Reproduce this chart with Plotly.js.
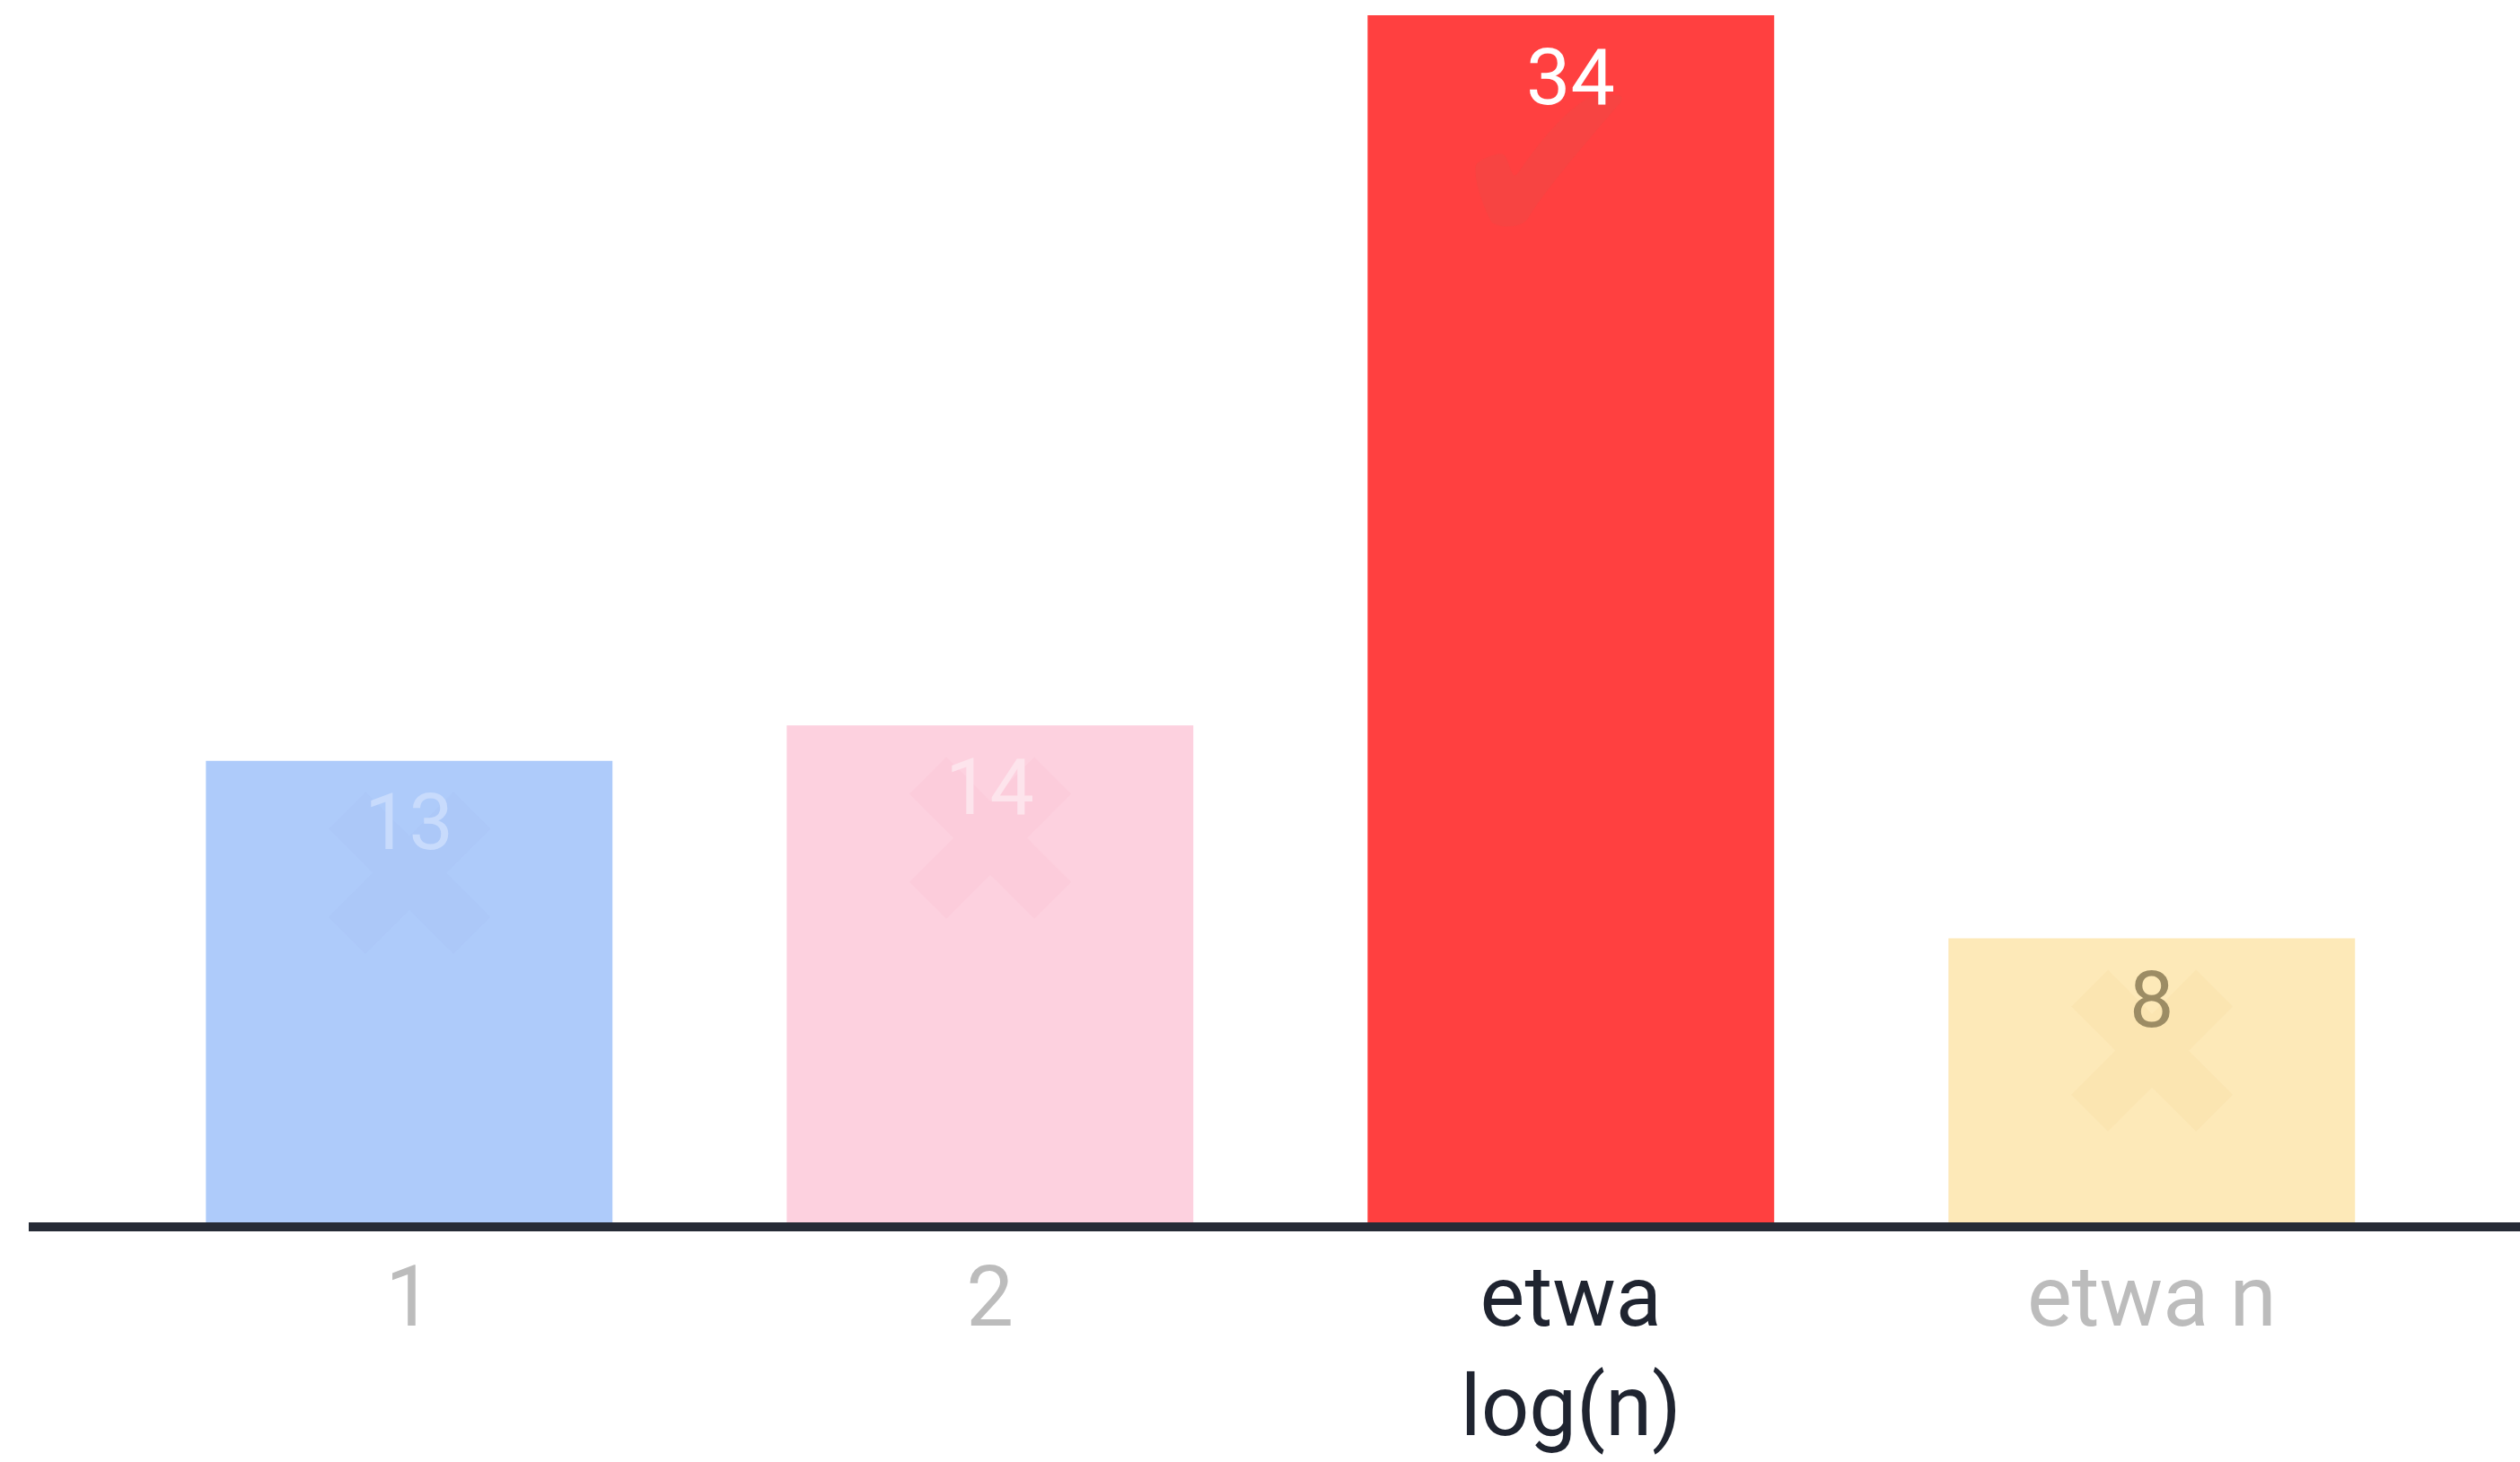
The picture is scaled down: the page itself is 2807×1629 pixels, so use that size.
<!DOCTYPE html>
<html>
<head>
<meta charset="utf-8">
<script src="https://cdn.plot.ly/plotly-3.0.1.min.js"></script>
<style>html,body{margin:0;padding:0;background:#fff;}#chart{width:2807px;height:1629px;}</style>
</head>
<body>
<div id="chart"></div>
<script>
// ---- data ----
const categories = ["1", "2", "etwa log(n)", "etwa n"];
const tickLabels = ["1", "2", "etwa<br>log(n)", "etwa n"];
const values = [13, 14, 34, 8];
const barColors = ["#aecbfa", "#fdd1df", "#ff4040", "#fde9b8"];
const labelColors = ["#c8dbfc", "#fde4ec", "#ffffff", "#9c8c64"];
const tickColors = ["#bcbcbc", "#bcbcbc", "#1f2430", "#bcbcbc"];
const markSymbols = ["\u2716", "\u2716", "\u2714", "\u2716"];
const markColors = ["rgba(150,165,235,0.08)", "rgba(245,175,200,0.14)", "rgba(200,90,80,0.14)", "rgba(245,210,150,0.18)"];

const trace = {
  type: "bar",
  x: categories,
  y: values,
  marker: { color: barColors, line: { width: 0 } },
  hoverinfo: "skip",
  showlegend: false
};

const annotations = [];
categories.forEach((c, i) => {
  annotations.push({
    x: i, y: values[i], xref: "x", yref: "y",
    text: markSymbols[i], showarrow: false,
    font: { family: "DejaVu Sans", size: 270, color: markColors[i] },
    yanchor: "middle", xanchor: "center",
    yshift: i === 2 ? -165 : -130, xshift: i === 2 ? -25 : 0
  });
  annotations.push({
    x: i, y: values[i], xref: "x", yref: "y",
    text: String(values[i]), showarrow: false,
    font: { family: "Roboto", size: 88, color: labelColors[i] },
    yanchor: "middle", xanchor: "center",
    yshift: -68
  });
});

const layout = {
  width: 2807, height: 1629,
  margin: { l: 32, r: 0, t: 17, b: 267, pad: 0 },
  paper_bgcolor: "#ffffff", plot_bgcolor: "#ffffff",
  bargap: 0.3,
  xaxis: {
    type: "category",
    range: [-0.655, 3.634],
    showline: true, linecolor: "#262b36", linewidth: 10,
    showgrid: false, zeroline: false, ticks: "",
    tickvals: categories,
    ticktext: tickLabels.map((t, i) => '<span style="color:' + tickColors[i] + '">' + t + '</span>'),
    tickfont: { family: "Roboto", size: 94, color: "#bcbcbc" },
    ticklabelstandoff: -8,
    fixedrange: true
  },
  yaxis: {
    range: [0, 34], visible: false, showgrid: false, zeroline: false, fixedrange: true
  },
  annotations: annotations
};

Plotly.newPlot("chart", [trace], layout, { displayModeBar: false, staticPlot: true });
</script>
</body>
</html>
